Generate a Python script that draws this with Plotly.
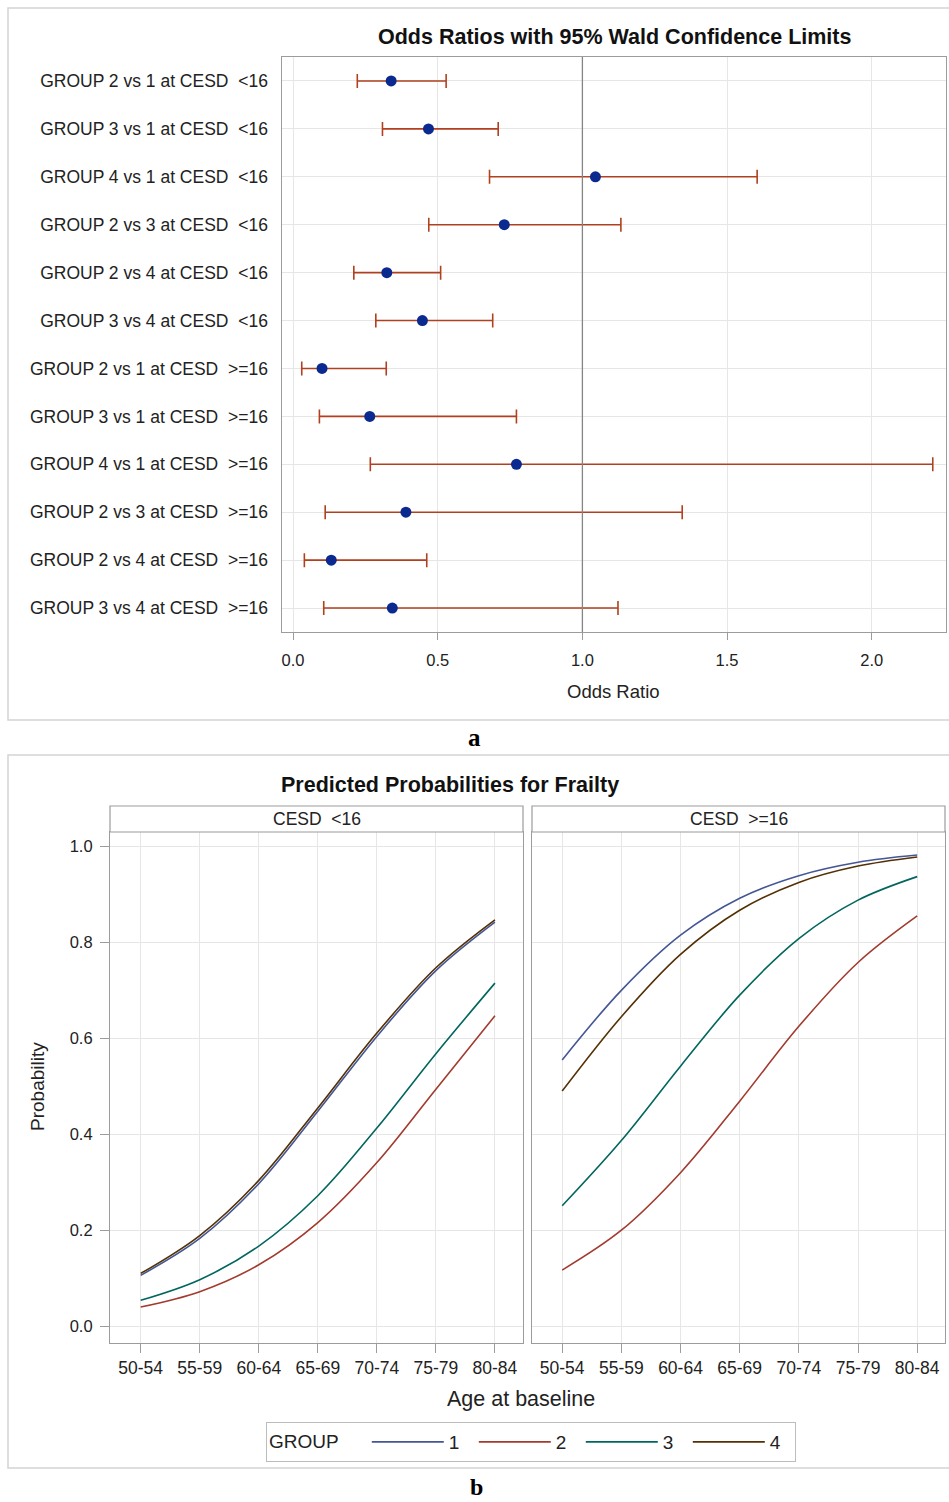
import plotly.graph_objects as go

W, H = 949, 1502

# ---------------- Panel a data: odds ratios ----------------
comparison_labels = [
    "GROUP 2 vs 1 at CESD\u00a0 <16",
    "GROUP 3 vs 1 at CESD\u00a0 <16",
    "GROUP 4 vs 1 at CESD\u00a0 <16",
    "GROUP 2 vs 3 at CESD\u00a0 <16",
    "GROUP 2 vs 4 at CESD\u00a0 <16",
    "GROUP 3 vs 4 at CESD\u00a0 <16",
    "GROUP 2 vs 1 at CESD\u00a0 >=16",
    "GROUP 3 vs 1 at CESD\u00a0 >=16",
    "GROUP 4 vs 1 at CESD\u00a0 >=16",
    "GROUP 2 vs 3 at CESD\u00a0 >=16",
    "GROUP 2 vs 4 at CESD\u00a0 >=16",
    "GROUP 3 vs 4 at CESD\u00a0 >=16",
]
or_estimate = [0.339, 0.468, 1.045, 0.730, 0.324, 0.447, 0.100, 0.265, 0.772, 0.390, 0.132, 0.343]
or_lower = [0.222, 0.309, 0.679, 0.469, 0.210, 0.286, 0.030, 0.091, 0.267, 0.111, 0.039, 0.106]
or_upper = [0.529, 0.709, 1.604, 1.133, 0.510, 0.690, 0.322, 0.772, 2.211, 1.345, 0.462, 1.123]
or_ticks = [0.0, 0.5, 1.0, 1.5, 2.0]
or_ticktext = ["0.0", "0.5", "1.0", "1.5", "2.0"]
reference_or = 1.0

# ---------------- Panel b data: predicted probabilities ----------------
age_groups = ["50-54", "55-59", "60-64", "65-69", "70-74", "75-79", "80-84"]
groups = ["1", "2", "3", "4"]
group_colors = ["#445694", "#A23A2E", "#01665E", "#543005"]

p_lt16_g1 = [0.106, 0.183, 0.297, 0.448, 0.604, 0.741, 0.842]
p_lt16_g2 = [0.040, 0.072, 0.128, 0.216, 0.341, 0.494, 0.647]
p_lt16_g3 = [0.054, 0.097, 0.167, 0.272, 0.413, 0.568, 0.715]
p_lt16_g4 = [0.110, 0.189, 0.304, 0.455, 0.611, 0.747, 0.847]

p_ge16_g1 = [0.555, 0.700, 0.815, 0.892, 0.939, 0.967, 0.982]
p_ge16_g2 = [0.117, 0.200, 0.320, 0.469, 0.625, 0.758, 0.855]
p_ge16_g3 = [0.251, 0.387, 0.542, 0.690, 0.808, 0.888, 0.937]
p_ge16_g4 = [0.490, 0.645, 0.775, 0.867, 0.925, 0.959, 0.978]

prob_ticks = [0.0, 0.2, 0.4, 0.6, 0.8, 1.0]
prob_ticktext = ["0.0", "0.2", "0.4", "0.6", "0.8", "1.0"]

FONT = "Liberation Sans, Arial, sans-serif"
TXT = "#222222"
GRID = "#E6E6E6"
FRAME = "#9C9C9C"


def px(x):
    return x / W


def py(y):
    return 1 - y / H


fig = go.Figure()

# Panel a: forest plot
row_pos = list(range(len(comparison_labels)))
fig.add_trace(go.Scatter(
    x=or_estimate, y=row_pos, mode="markers",
    marker=dict(color="#0B2A8F", size=11),
    error_x=dict(type="data", symmetric=False,
                 array=[u - e for u, e in zip(or_upper, or_estimate)],
                 arrayminus=[e - l for e, l in zip(or_estimate, or_lower)],
                 color="#B0401F", thickness=1.6, width=7),
    xaxis="x", yaxis="y", showlegend=False, hoverinfo="skip",
))

# Panel b: predicted probability curves
xs = list(range(len(age_groups)))
lt16 = [p_lt16_g1, p_lt16_g2, p_lt16_g3, p_lt16_g4]
ge16 = [p_ge16_g1, p_ge16_g2, p_ge16_g3, p_ge16_g4]
for g, col, ya, yb in zip(groups, group_colors, lt16, ge16):
    fig.add_trace(go.Scatter(x=xs, y=ya, mode="lines", name=g, legendgroup=g,
                             line=dict(color=col, width=1.6, shape="spline"),
                             xaxis="x2", yaxis="y2", showlegend=True))
    fig.add_trace(go.Scatter(x=xs, y=yb, mode="lines", name=g, legendgroup=g,
                             line=dict(color=col, width=1.6, shape="spline"),
                             xaxis="x3", yaxis="y3", showlegend=False))

axis_common = dict(showgrid=True, gridcolor=GRID, gridwidth=1, zeroline=False,
                   showline=True, mirror=True, linecolor=FRAME, linewidth=1.2,
                   tickcolor=FRAME)

fig.update_layout(
    width=W, height=H,
    margin=dict(l=0, r=0, t=0, b=0),
    paper_bgcolor="white", plot_bgcolor="white",
    font=dict(family=FONT, color=TXT),
    xaxis=dict(domain=[px(281.5), px(945.5)], range=[-0.040, 2.255], anchor="y",
               tickvals=or_ticks, ticktext=or_ticktext, ticks="outside", ticklen=7,
               ticklabelstandoff=6, tickfont=dict(size=16.5, color=TXT), **axis_common),
    yaxis=dict(domain=[py(632), py(57)], range=[11.5, -0.5], anchor="x",
               tickvals=row_pos, ticktext=comparison_labels, ticks="",
               ticklabelstandoff=9, tickfont=dict(size=17.5, color=TXT), **axis_common),
    xaxis2=dict(domain=[px(110), px(523)], range=[-0.52, 6.475], anchor="y2",
                tickvals=xs, ticktext=age_groups, ticks="outside", ticklen=9,
                ticklabelstandoff=0, tickfont=dict(size=17.5, color=TXT), **axis_common),
    yaxis2=dict(domain=[py(1343), py(832)], range=[-0.035, 1.030], anchor="x2",
                tickvals=prob_ticks, ticktext=prob_ticktext, ticks="outside", ticklen=9,
                ticklabelstandoff=4, tickfont=dict(size=16.5, color=TXT), **axis_common),
    xaxis3=dict(domain=[px(532), px(945)], range=[-0.51, 6.47], anchor="y3",
                tickvals=xs, ticktext=age_groups, ticks="outside", ticklen=9,
                ticklabelstandoff=0, tickfont=dict(size=17.5, color=TXT), **axis_common),
    yaxis3=dict(domain=[py(1343), py(832)], range=[-0.035, 1.030], anchor="x3",
                tickvals=prob_ticks, showticklabels=False, ticks="", **axis_common),
    legend=dict(orientation="h", x=px(266), y=py(1422), xanchor="left", yanchor="top",
                bordercolor="#BDBDBD", borderwidth=1, bgcolor="white",
                title=dict(text="GROUP\u00a0\u00a0\u00a0\u00a0", font=dict(size=19, color=TXT)),
                font=dict(size=19, color=TXT), itemwidth=72,
                entrywidth=20, entrywidthmode="pixels",
                tracegroupgap=0),
)

shapes = [
    # outer panel frames
    dict(type="rect", xref="paper", yref="paper", x0=px(8), x1=px(960), y0=py(720), y1=py(8),
         line=dict(color="#D4D4D4", width=1.5), layer="below"),
    dict(type="rect", xref="paper", yref="paper", x0=px(8), x1=px(960), y0=py(1468), y1=py(755),
         line=dict(color="#D4D4D4", width=1.5), layer="below"),
    # reference line at OR = 1
    dict(type="line", xref="x", yref="y domain", x0=reference_or, x1=reference_or, y0=0, y1=1,
         line=dict(color="#858585", width=1.3)),
    # facet header strips
    dict(type="rect", xref="paper", yref="paper", x0=px(110), x1=px(523), y0=py(832), y1=py(806),
         line=dict(color=FRAME, width=1.2), fillcolor="white"),
    dict(type="rect", xref="paper", yref="paper", x0=px(532), x1=px(945), y0=py(832), y1=py(806),
         line=dict(color=FRAME, width=1.2), fillcolor="white"),
]
fig.update_layout(shapes=shapes)

ann = [
    dict(text="<b>Odds Ratios with 95% Wald Confidence Limits</b>", x=px(614), y=py(37),
         font=dict(size=21.5, color="#111111")),
    dict(text="Odds Ratio", x=px(613), y=py(691), font=dict(size=18.5, color=TXT)),
    dict(text="<b>a</b>", x=px(474), y=py(737),
         font=dict(size=25, family="Liberation Serif, Times New Roman, serif", color="#000000")),
    dict(text="<b>Predicted Probabilities for Frailty</b>", x=px(450), y=py(785),
         font=dict(size=21.5, color="#111111")),
    dict(text="CESD\u00a0 <16", x=px(316.5), y=py(819), font=dict(size=17.5, color=TXT)),
    dict(text="CESD\u00a0 >=16", x=px(738.5), y=py(819), font=dict(size=17.5, color=TXT)),
    dict(text="Probability", x=px(37), y=py(1087), textangle=-90, font=dict(size=19, color=TXT)),
    dict(text="Age at baseline", x=px(521), y=py(1399), font=dict(size=21.5, color=TXT)),
    dict(text="<b>b</b>", x=px(476), y=py(1487),
         font=dict(size=24, family="Liberation Serif, Times New Roman, serif", color="#000000")),
]
for a in ann:
    a.update(xref="paper", yref="paper", xanchor="center", yanchor="middle", showarrow=False)
fig.update_layout(annotations=ann)

fig.write_html("out.html", config={"displayModeBar": False},
               post_script="document.body.style.margin='0';document.body.style.overflow='hidden';")
